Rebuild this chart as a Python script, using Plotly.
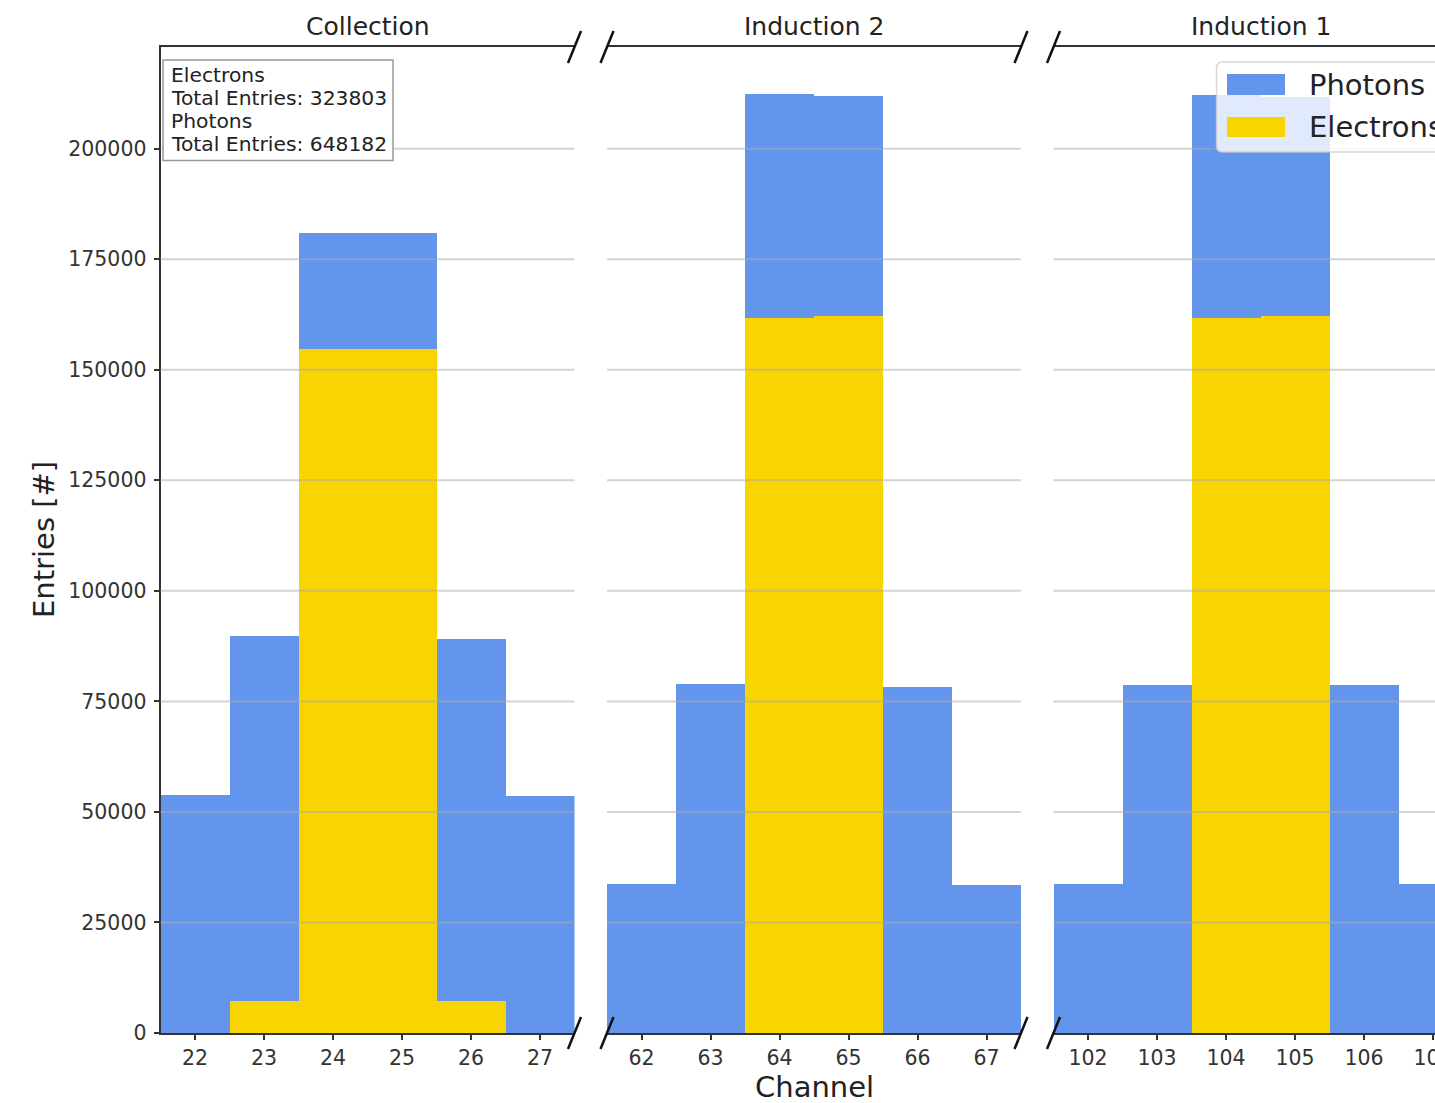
import plotly.graph_objects as go

# ---------------- data ----------------
panel_titles = ["Collection", "Induction 2", "Induction 1"]
series_names = ["Photons", "Electrons"]
series_colors = ["#6495ED", "#F8D500"]

collection_channels = [22, 23, 24, 25, 26, 27]
collection_photons = [53900, 89700, 181000, 181000, 89100, 53500]
collection_electrons = [0, 7200, 154600, 154800, 7200, 0]

induction2_channels = [62, 63, 64, 65, 66, 67]
induction2_photons = [33700, 78900, 212300, 211900, 78300, 33500]
induction2_electrons = [0, 0, 161700, 162100, 0, 0]

induction1_channels = [102, 103, 104, 105, 106, 107]
induction1_photons = [33700, 78700, 212100, 211800, 78700, 33800]
induction1_electrons = [0, 0, 161700, 162100, 0, 0]

electron_total = 323803
photon_total = 648182

y_ticks = [0, 25000, 50000, 75000, 100000, 125000, 150000, 175000, 200000]
y_max = 223000

# ---------------- layout geometry (pixels) ----------------
W, H = 1435, 1103
ML, MR, MT, MB = 160, 0, 47, 70
PW = W - ML - MR
PH = H - MT - MB
panel_left = [160.5, 607.0, 1053.5]
panel_w = 414.0
unit_px = panel_w / 6.0


def px2x(px):
    return (px - ML) / PW


def py2y(py):
    return (H - MB - py) / PH


FONT = "DejaVu Sans"
TXT = "#222222"
TICK = "#333333"

fig = go.Figure()

panels = [
    (collection_channels, collection_photons, collection_electrons),
    (induction2_channels, induction2_photons, induction2_electrons),
    (induction1_channels, induction1_photons, induction1_electrons),
]

for i, (ch, ph, el) in enumerate(panels):
    xa = "x" if i == 0 else f"x{i+1}"
    ya = "y" if i == 0 else f"y{i+1}"
    fig.add_trace(go.Bar(x=ch, y=ph, width=1.0, name=series_names[0],
                         marker=dict(color=series_colors[0], line=dict(width=0)),
                         xaxis=xa, yaxis=ya, showlegend=False))
    fig.add_trace(go.Bar(x=ch, y=el, width=1.0, name=series_names[1],
                         marker=dict(color=series_colors[1], line=dict(width=0)),
                         xaxis=xa, yaxis=ya, showlegend=False))

layout_axes = {}
for i, (ch, _, _) in enumerate(panels):
    left = panel_left[i]
    right = min(left + panel_w, W)
    x0 = ch[0] - 0.5
    x1 = x0 + (right - left) / unit_px
    key = "xaxis" if i == 0 else f"xaxis{i+1}"
    ykey = "yaxis" if i == 0 else f"yaxis{i+1}"
    layout_axes[key] = dict(
        domain=[max(0, px2x(left)), min(1, px2x(right))],
        range=[x0, x1], anchor="y" if i == 0 else f"y{i+1}",
        tickmode="array", tickvals=ch, ticktext=[str(c) for c in ch],
        ticks="outside", ticklen=5, tickwidth=1.5, tickcolor=TICK,
        ticklabeloverflow="allow",
        tickfont=dict(family=FONT, size=20.5, color=TICK),
        showline=True, linecolor=TICK, linewidth=1.8, mirror=True,
        showgrid=False, zeroline=False, fixedrange=True,
    )
    layout_axes[ykey] = dict(
        domain=[0, 1], range=[0, y_max], anchor="x" if i == 0 else f"x{i+1}",
        tickmode="array", tickvals=y_ticks, tickformat="d",
        ticks="outside" if i == 0 else "", ticklen=5, tickwidth=1.5, tickcolor=TICK,
        showticklabels=(i == 0), ticklabelstandoff=3,
        tickfont=dict(family=FONT, size=20.5, color=TICK),
        showline=(i == 0), linecolor=TICK, linewidth=1.8, mirror=False,
        showgrid=False, zeroline=False, fixedrange=True,
    )

shapes = []
# grid lines above the bars
for i in range(3):
    xd = "x domain" if i == 0 else f"x{i+1} domain"
    yr = "y" if i == 0 else f"y{i+1}"
    for t in y_ticks[1:]:
        shapes.append(dict(type="line", xref=xd, yref=yr, x0=0, x1=1, y0=t, y1=t,
                           line=dict(color="rgba(170,170,170,0.5)", width=2), layer="above"))

# break marks
for bx in [panel_left[0] + panel_w, panel_left[1], panel_left[1] + panel_w, panel_left[2]]:
    for by in [MT, H - MB]:
        shapes.append(dict(type="line", xref="paper", yref="paper",
                           x0=px2x(bx - 6.5), y0=py2y(by + 16),
                           x1=px2x(bx + 6.5), y1=py2y(by - 16),
                           line=dict(color="#111111", width=2.5), layer="above"))

# info text box
shapes.append(dict(type="rect", xref="paper", yref="paper",
                   x0=px2x(163), x1=px2x(393), y0=py2y(160.5), y1=py2y(60),
                   fillcolor="white", line=dict(color="#999999", width=1.5), layer="above"))

# legend box (rounded)
lx0, lx1, ly0, ly1, r = 1216.5, 1460.0, 62.0, 152.0, 6.0
path = (f"M {px2x(lx0 + r)},{py2y(ly0)} L {px2x(lx1 - r)},{py2y(ly0)} "
        f"Q {px2x(lx1)},{py2y(ly0)} {px2x(lx1)},{py2y(ly0 + r)} "
        f"L {px2x(lx1)},{py2y(ly1 - r)} Q {px2x(lx1)},{py2y(ly1)} {px2x(lx1 - r)},{py2y(ly1)} "
        f"L {px2x(lx0 + r)},{py2y(ly1)} Q {px2x(lx0)},{py2y(ly1)} {px2x(lx0)},{py2y(ly1 - r)} "
        f"L {px2x(lx0)},{py2y(ly0 + r)} Q {px2x(lx0)},{py2y(ly0)} {px2x(lx0 + r)},{py2y(ly0)} Z")
shapes.append(dict(type="path", xref="paper", yref="paper", path=path,
                   fillcolor="rgba(255,255,255,0.8)",
                   line=dict(color="rgba(204,204,204,0.8)", width=1.5), layer="above"))
legend_rows = [(74, 95, 85), (117, 137, 127)]
for (t, b, c), name, col in zip(legend_rows, series_names, series_colors):
    shapes.append(dict(type="rect", xref="paper", yref="paper",
                       x0=px2x(1227), x1=px2x(1285), y0=py2y(b), y1=py2y(t),
                       fillcolor=col, line=dict(width=0), layer="above"))

annotations = []
for (t, b, c), name in zip(legend_rows, series_names):
    annotations.append(dict(text=name, xref="paper", yref="paper", x=px2x(1307), y=py2y(c),
                            xanchor="left", yanchor="middle", showarrow=False,
                            font=dict(family=FONT, size=29, color=TXT)))

info_lines = ["Electrons", f"Total Entries: {electron_total}",
              "Photons", f"Total Entries: {photon_total}"]
for line, yy in zip(info_lines, [75, 98, 121, 144]):
    annotations.append(dict(text=line, xref="paper", yref="paper", x=px2x(169), y=py2y(yy),
                            xanchor="left", yanchor="middle", showarrow=False,
                            font=dict(family=FONT, size=20.3, color=TXT)))

for i, title in enumerate(panel_titles):
    cx = panel_left[i] + panel_w / 2
    annotations.append(dict(text=title, xref="paper", yref="paper", x=px2x(cx), y=py2y(27),
                            xanchor="center", yanchor="middle", showarrow=False,
                            font=dict(family=FONT, size=25, color=TXT)))

annotations.append(dict(text="Channel", xref="paper", yref="paper",
                        x=px2x(panel_left[1] + panel_w / 2), y=py2y(1087),
                        xanchor="center", yanchor="middle", showarrow=False,
                        font=dict(family=FONT, size=29, color=TXT)))
annotations.append(dict(text="Entries [#]", xref="paper", yref="paper",
                        x=px2x(44), y=py2y(540), textangle=-90,
                        xanchor="center", yanchor="middle", showarrow=False,
                        font=dict(family=FONT, size=29, color=TXT)))

fig.update_layout(
    width=W, height=H,
    margin=dict(l=ML, r=MR, t=MT, b=MB, autoexpand=False),
    paper_bgcolor="white", plot_bgcolor="white",
    barmode="overlay", bargap=0,
    showlegend=False,
    shapes=shapes, annotations=annotations,
    font=dict(family=FONT),
    **layout_axes,
)

fig.write_html("out.html", config={"displayModeBar": False},
               post_script="document.body.style.margin='0';document.body.style.overflow='hidden';")
